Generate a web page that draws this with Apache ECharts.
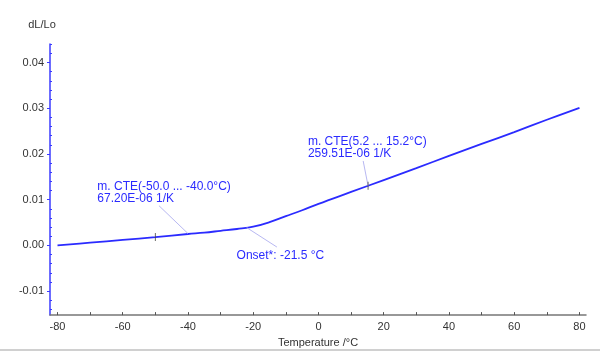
<!DOCTYPE html>
<html>
<head>
<meta charset="utf-8">
<script src="https://cdn.jsdelivr.net/npm/echarts@6/dist/echarts.min.js"></script>
<style>html,body{margin:0;padding:0;background:#fff;}#c{width:600px;height:353px;}</style>
</head>
<body>
<div id="c"></div>
<script>
// Data
const temps = [-80,-70,-60,-50,-40,-35,-30,-25,-20,-15,-10,-5,0,10,20,30,40,50,60,70,80];
const dlLo  = [0,0.0006,0.0012,0.00183,0.0025,0.0028,0.0032,0.0036,0.0041,0.0051,0.0064,0.0077,0.0091,0.0117,0.0143,0.0169,0.0196,0.0222,0.0248,0.0275,0.0301];
const markerTemps = [-50, 15.2];
const markerValues = [0.00183, 0.01304];
const xLabelTicks = [-80,-60,-40,-20,0,20,40,60,80];
const xMinorTicks = [-80,-70,-60,-50,-40,-30,-20,-10,0,10,20,30,40,50,60,70,80];
const yLabelTicks = [-0.01,0,0.01,0.02,0.03,0.04];
const yMinorTicks = [-0.014,-0.012,-0.008,-0.006,-0.004,-0.002,0.002,0.004,0.006,0.008,0.012,0.014,0.016,0.018,0.022,0.024,0.026,0.028,0.032,0.034,0.036,0.038,0.042,0.044];
const annotationTexts = ['m. CTE(-50.0 ... -40.0°C)\n67.20E-06 1/K', 'Onset*: -21.5 °C', 'm. CTE(5.2 ... 15.2°C)\n259.51E-06 1/K'];
const annotationAnchors = [[-67.8, 0.01417], [-25.1, -0.00083], [-3.25, 0.02396]];
const leaderStarts = [[-48.9, 0.0087], [-22.0, 0.0039], [13.7, 0.01848]];
const leaderEnds = [[-40.0, 0.0026], [-12.75, -0.00035], [15.2, 0.01304]];

const BLUE = '#2b2bff';
const chart = echarts.init(document.getElementById('c'), null, {renderer:'canvas'});
const X_MIN = -82.3, X_MAX = 82.0, Y_MIN = -0.01524, Y_MAX = 0.04407;
const font = 'Liberation Sans, Arial, sans-serif';

chart.setOption({
  animation: false,
  backgroundColor: '#fff',
  grid: {left: 50, right: 14, top: 44, bottom: 36, containLabel: false},
  xAxis: [{
    type: 'value', min: X_MIN, max: X_MAX,
    name: 'Temperature /°C', nameLocation: 'middle', nameGap: 21,
    nameTextStyle: {color: '#333', fontSize: 11, fontFamily: font},
    axisLine: {show: true, onZero: false, lineStyle: {color: '#777', width: 1.5}},
    axisTick: {show: true, inside: true, length: 3, lineStyle: {color: '#555'}, customValues: xMinorTicks},
    axisLabel: {show: true, color: '#333', fontSize: 11, fontFamily: font, margin: 6, customValues: xLabelTicks, formatter: v => String(Math.round(v))},
    splitLine: {show: false}
  }],
  yAxis: [{
    type: 'value', min: Y_MIN, max: Y_MAX,
    name: 'dL/Lo', nameLocation: 'end', nameGap: 14,
    nameTextStyle: {color: '#333', fontSize: 11, fontFamily: font, padding: [0, 16, 0, 0]},
    axisLine: {show: true, onZero: false, lineStyle: {color: '#3b3bff', width: 1.5}},
    axisTick: {show: true, inside: false, length: 3, lineStyle: {color: '#3b3bff'}, customValues: yLabelTicks},
    axisLabel: {show: true, color: '#333', fontSize: 11, fontFamily: font, margin: 6, customValues: yLabelTicks, formatter: v => v.toFixed(2)},
    splitLine: {show: false}
  }, {
    type: 'value', min: Y_MIN, max: Y_MAX, position: 'left', offset: 0,
    axisLine: {show: false, onZero: false},
    axisTick: {show: true, inside: true, length: 2, lineStyle: {color: '#3b3bff'}, customValues: yMinorTicks},
    axisLabel: {show: false},
    splitLine: {show: false}
  }],
  series: [{
    type: 'line',
    data: temps.map((t, i) => [t, dlLo[i]]),
    showSymbol: false, symbol: 'none', smooth: 0.4,
    lineStyle: {color: BLUE, width: 1.8},
    markLine: {
      silent: true, symbol: ['none', 'none'],
      lineStyle: {color: '#b8b8f2', type: 'solid', width: 1},
      label: {show: false},
      data: leaderStarts.map((s, i) => [{coord: s}, {coord: leaderEnds[i]}])
    },
    markPoint: {
      silent: true, symbol: 'circle', symbolSize: 0,
      label: {show: true, position: [0, 0], align: 'left', verticalAlign: 'top', color: BLUE, fontSize: 12, lineHeight: 12, fontFamily: font},
      data: annotationAnchors.map((a, i) => ({coord: a, label: {formatter: annotationTexts[i]}}))
    }
  }, {
    type: 'scatter',
    data: markerTemps.map((t, i) => [t, markerValues[i]]),
    symbol: 'rect', symbolSize: [1, 8],
    itemStyle: {color: '#444'}, z: 5
  }],
  graphic: [{
    type: 'line', shape: {x1: 0, y1: 350, x2: 600, y2: 350},
    style: {stroke: '#d0d0d0', lineWidth: 2}, silent: true
  }]
});
</script>
</body>
</html>
